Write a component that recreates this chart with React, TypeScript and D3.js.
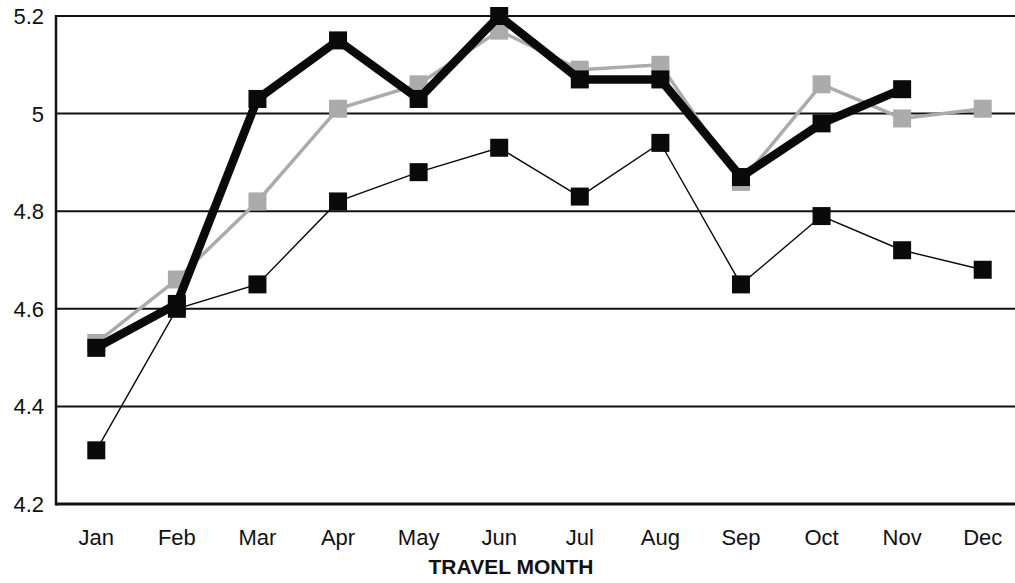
import React, { useEffect, useRef } from 'react'
import * as d3 from 'd3'

const months = ['Jan', 'Feb', 'Mar', 'Apr', 'May', 'Jun', 'Jul', 'Aug', 'Sep', 'Oct', 'Nov', 'Dec']
const yTicks = [4.2, 4.4, 4.6, 4.8, 5, 5.2]

// thick black series (no December value)
const seriesThick: (number | null)[] = [4.52, 4.61, 5.03, 5.15, 5.03, 5.2, 5.07, 5.07, 4.87, 4.98, 5.05, null]
// grey series
const seriesGrey: (number | null)[] = [4.53, 4.66, 4.82, 5.01, 5.06, 5.17, 5.09, 5.1, 4.86, 5.06, 4.99, 5.01]
// thin black series
const seriesThin: (number | null)[] = [4.31, 4.6, 4.65, 4.82, 4.88, 4.93, 4.83, 4.94, 4.65, 4.79, 4.72, 4.68]

const width = 1015
const height = 583
const margin = { top: 16, right: -8, bottom: 79, left: 56 }

const App: React.FC = () => {
  const svgRef = useRef<SVGSVGElement | null>(null)

  useEffect(() => {
    if (!svgRef.current) return
    const svg = d3.select(svgRef.current)
    svg.selectAll('*').remove()

    const x = d3
      .scaleBand()
      .domain(months)
      .range([margin.left, width - margin.right])
    const y = d3
      .scaleLinear()
      .domain([4.2, 5.2])
      .range([height - margin.bottom, margin.top])

    const cx = (m: string) => x(m)! + x.bandwidth() / 2

    svg.append('rect').attr('width', width).attr('height', height).attr('fill', '#fff')

    // grid lines
    svg
      .append('g')
      .selectAll('line')
      .data(yTicks.filter((t) => t > 4.2))
      .join('line')
      .attr('x1', margin.left)
      .attr('x2', width)
      .attr('y1', (d) => y(d))
      .attr('y2', (d) => y(d))
      .attr('stroke', '#111')
      .attr('stroke-width', 2)

    // axes lines
    svg
      .append('line')
      .attr('x1', margin.left)
      .attr('x2', margin.left)
      .attr('y1', y(5.2) - 1)
      .attr('y2', y(4.2) + 1.5)
      .attr('stroke', '#111')
      .attr('stroke-width', 2.5)
    svg
      .append('line')
      .attr('x1', margin.left)
      .attr('x2', width)
      .attr('y1', y(4.2))
      .attr('y2', y(4.2))
      .attr('stroke', '#111')
      .attr('stroke-width', 3)

    // y tick labels
    svg
      .append('g')
      .selectAll('text')
      .data(yTicks)
      .join('text')
      .attr('x', margin.left - 12)
      .attr('y', (d) => y(d))
      .attr('dy', '0.36em')
      .attr('text-anchor', 'end')
      .attr('font-family', 'Liberation Sans, Arial, sans-serif')
      .attr('font-size', 22)
      .attr('fill', '#111')
      .text((d) => d3.format('~g')(d))

    // x labels
    svg
      .append('g')
      .selectAll('text')
      .data(months)
      .join('text')
      .attr('x', (d) => cx(d))
      .attr('y', y(4.2) + 41)
      .attr('text-anchor', 'middle')
      .attr('font-family', 'Liberation Sans, Arial, sans-serif')
      .attr('font-size', 22)
      .attr('fill', '#111')
      .text((d) => d)

    svg
      .append('text')
      .attr('x', 511)
      .attr('y', 574)
      .attr('text-anchor', 'middle')
      .attr('font-family', 'Liberation Sans, Arial, sans-serif')
      .attr('font-weight', 'bold')
      .attr('font-size', 21)
      .attr('fill', '#111')
      .text('TRAVEL MONTH')

    const drawSeries = (
      values: (number | null)[],
      color: string,
      lineWidth: number,
      size: number
    ) => {
      const pts = months
        .map((m, i) => ({ m, v: values[i] }))
        .filter((p) => p.v !== null) as { m: string; v: number }[]
      const line = d3
        .line<{ m: string; v: number }>()
        .x((d) => cx(d.m))
        .y((d) => y(d.v))
      const g = svg.append('g')
      g.append('path')
        .attr('d', line(pts)!)
        .attr('fill', 'none')
        .attr('stroke', color)
        .attr('stroke-width', lineWidth)
        .attr('stroke-linejoin', 'miter')
      g.selectAll('rect')
        .data(pts)
        .join('rect')
        .attr('x', (d) => cx(d.m) - size / 2)
        .attr('y', (d) => y(d.v) - size / 2)
        .attr('width', size)
        .attr('height', size)
        .attr('fill', color)
    }

    drawSeries(seriesThin, '#0a0a0a', 1.4, 18)
    drawSeries(seriesGrey, '#ababab', 3.5, 18)
    drawSeries(seriesThick, '#0a0a0a', 8.5, 18)
  }, [])

  return (
    <svg
      ref={svgRef}
      width={width}
      height={height}
      style={{ position: 'absolute', left: 0, top: 0 }}
    ></svg>
  )
}

export default App
